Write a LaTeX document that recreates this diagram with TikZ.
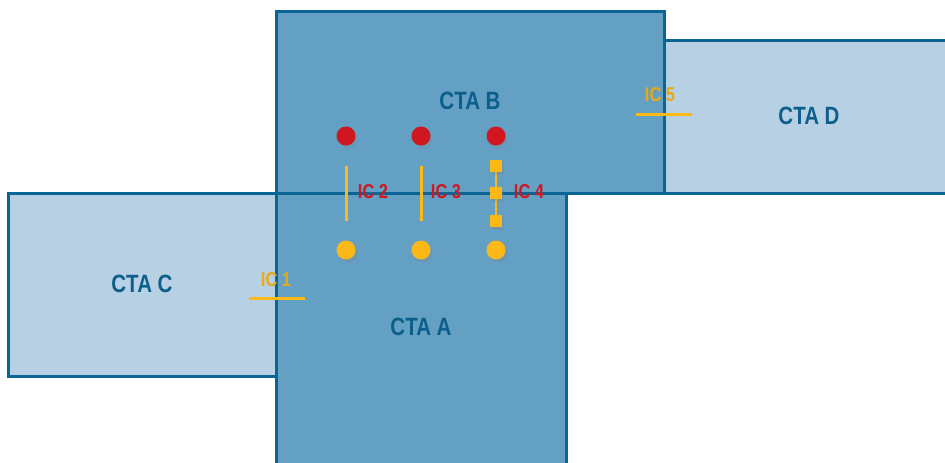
\documentclass[tikz,border=0pt]{standalone}
\usepackage{fontspec}
\newfontfamily\narrowfont[FakeStretch=0.82]{Liberation Sans}
\usetikzlibrary{shadows}
\definecolor{ctadark}{HTML}{649FC4}
\definecolor{ctalight}{HTML}{B8D0E4}
\definecolor{ctaline}{HTML}{0A6494}
\definecolor{ctatext}{HTML}{0B5F8A}
\definecolor{icred}{HTML}{D0161F}
\definecolor{icyel}{HTML}{FBB817}
\definecolor{icyeltext}{HTML}{E9A816}
\tikzset{
  ctabox/.style={draw=ctaline, line width=3pt},
  ctalabel/.style={font=\narrowfont\bfseries\fontsize{25}{25}\selectfont, text=ctatext, inner sep=0pt},
  iclabel/.style={font=\narrowfont\bfseries\fontsize{20}{20}\selectfont, text=icred, inner sep=0pt},
  icylabel/.style={font=\narrowfont\bfseries\fontsize{20}{20}\selectfont, text=icyeltext, inner sep=0pt},
  sh/.style={drop shadow={opacity=0.25, shadow xshift=2pt, shadow yshift=-3pt}},
  reddot/.style={circle, fill=icred, minimum size=19pt, inner sep=0pt, sh},
  yeldot/.style={circle, fill=icyel, minimum size=19pt, inner sep=0pt, sh},
  sq/.style={rectangle, fill=icyel, minimum size=12pt, inner sep=0pt, sh},
  icline/.style={draw=icyel, line width=3pt},
}
\begin{document}
\begin{tikzpicture}[x=1pt,y=-1pt]
\useasboundingbox (0,0) rectangle (945,463);
\fill[white] (0,0) rectangle (945,463);
% light boxes
\draw[ctabox, fill=ctalight] (8,193) rectangle (276,376);
\draw[ctabox, fill=ctalight] (664,40) rectangle (955,193);
% dark boxes
\draw[ctabox, fill=ctadark] (276,11) rectangle (664,193);
\draw[ctabox, fill=ctadark] (276,193) rectangle (566,475);
\draw[ctaline, line width=3pt] (276,11) -- (276,463);
% CTA labels
\node[ctalabel] (ctab) at (470,101) {CTA B};
\node[ctalabel] (ctad) at (809,116) {CTA D};
\node[ctalabel] (ctac) at (142,284) {CTA C};
\node[ctalabel] (ctaa) at (421,327) {CTA A};
% dots
\node[reddot] (r2) at (346,136) {};
\node[reddot] (r3) at (421,136) {};
\node[reddot] (r4) at (496,136) {};
\node[yeldot] (y2) at (346,250) {};
\node[yeldot] (y3) at (421,250) {};
\node[yeldot] (y4) at (496,250) {};
% IC2, IC3 lines
\coordinate (a2) at (346,166); \coordinate (b2) at (346,221);
\coordinate (a3) at (421,166); \coordinate (b3) at (421,221);
\draw[icline] (a2) -- (b2);
\draw[icline] (a3) -- (b3);
% IC4
\draw[icyel, line width=2.5pt] (496,166) -- (496,221);
\node[sq] (s1) at (496,166) {};
\node[sq] (s2) at (496,193) {};
\node[sq] (s3) at (496,221) {};
\node[iclabel] (ic2) at (373,192) {IC 2};
\node[iclabel] (ic3) at (446,192) {IC 3};
\node[iclabel] (ic4) at (529,192) {IC 4};
% IC1
\coordinate (l1a) at (249,298); \coordinate (l1b) at (305,298);
\draw[icline] (l1a) -- (l1b);
\node[icylabel] (ic1) at (276,280) {IC 1};
% IC5
\coordinate (l5a) at (636,114); \coordinate (l5b) at (692,114);
\draw[icline] (l5a) -- (l5b);
\node[icylabel] (ic5) at (660,95) {IC 5};
\end{tikzpicture}
\end{document}
